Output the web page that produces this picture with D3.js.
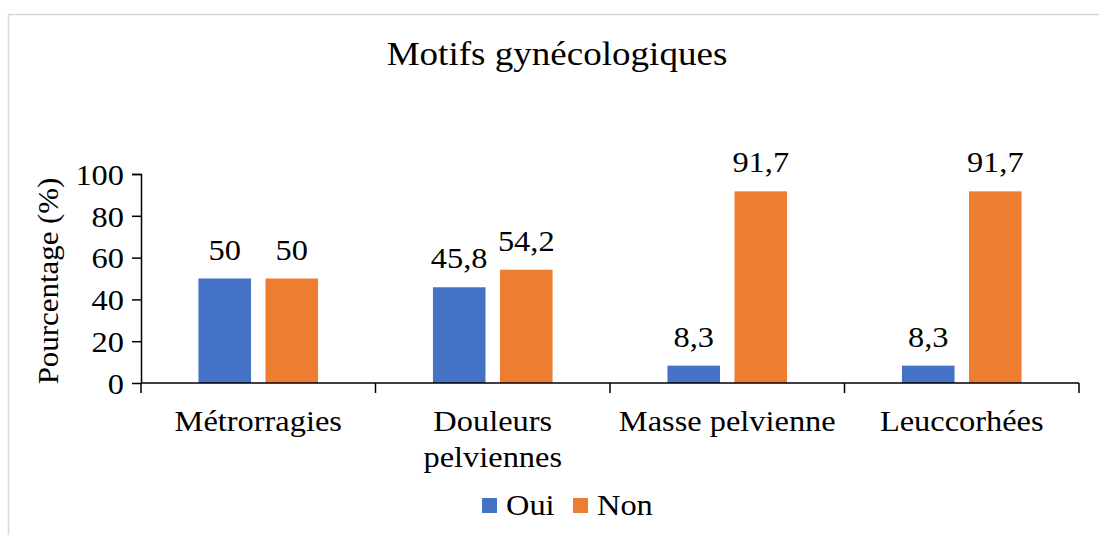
<!DOCTYPE html>
<html>
<head>
<meta charset="utf-8">
<script src="https://cdn.jsdelivr.net/npm/d3@7"></script>
<style>
  body { margin: 0; background: #fff; }
  text { font-family: "Liberation Serif", "Times New Roman", serif; fill: #000; }
</style>
</head>
<body>
<div id="chart"></div>
<script>
// data
const categories = [["Métrorragies"], ["Douleurs", "pelviennes"], ["Masse pelvienne"], ["Leuccorhées"]];
const seriesNames = ["Oui", "Non"];
const oui = [50, 45.8, 8.3, 8.3];
const non = [50, 54.2, 91.7, 91.7];
const yTicks = [0, 20, 40, 60, 80, 100];
const colors = ["#4472C4", "#ED7D31"];

const width = 1099, height = 535;
const margin = { top: 174, right: 20, bottom: 152, left: 141 };
const plotW = 1079 - margin.left;
const plotH = 383 - margin.top;
const fs = "30px";

// the original font sets a bit wider than Liberation Serif
function widen(sel, k) {
  sel.each(function () {
    const w = this.getComputedTextLength();
    d3.select(this).attr("textLength", w * k).attr("lengthAdjust", "spacingAndGlyphs");
  });
}

const svg = d3.select("#chart").append("svg")
  .attr("width", width).attr("height", height);

// chart area border (only top and left visible in the picture)
svg.append("rect")
  .attr("x", 8.5).attr("y", 14.5)
  .attr("width", 1110).attr("height", 540)
  .attr("fill", "none").attr("stroke", "#d9d9d9").attr("stroke-width", 1.5);

svg.append("text")
  .attr("x", 557).attr("y", 65)
  .attr("text-anchor", "middle")
  .style("font-size", "34px")
  .text("Motifs gynécologiques")
  .call(widen, 1.09);

const g = svg.append("g").attr("transform", `translate(${margin.left},${margin.top})`);

const x = d3.scaleBand().domain(d3.range(categories.length)).range([0, plotW]).padding(0);
const x1 = d3.scaleBand().domain(seriesNames)
  .range([x.bandwidth() * 0.245, x.bandwidth() * 0.755]).paddingInner(0.216);
const y = d3.scaleLinear().domain([0, 100]).range([plotH, 0]);

const data = categories.map((c, i) => ({ i, values: [oui[i], non[i]] }));

const groups = g.selectAll("g.grp").data(data).enter().append("g")
  .attr("transform", d => `translate(${x(d.i)},0)`);

groups.selectAll("rect").data(d => d.values.map((v, k) => ({ v, k }))).enter()
  .append("rect")
  .attr("x", d => x1(seriesNames[d.k]))
  .attr("y", d => y(d.v))
  .attr("width", x1.bandwidth())
  .attr("height", d => plotH - y(d.v))
  .attr("fill", d => colors[d.k]);

groups.selectAll("text.lbl").data(d => d.values.map((v, k) => ({ v, k }))).enter()
  .append("text")
  .attr("class", "lbl")
  .attr("x", d => x1(seriesNames[d.k]) + x1.bandwidth() / 2)
  .attr("y", d => y(d.v) - 19)
  .attr("text-anchor", "middle")
  .style("font-size", fs)
  .text(d => String(d.v).replace(".", ","))
  .call(widen, 1.08);

// y axis
const yAxis = g.append("g").call(d3.axisLeft(y).tickValues(yTicks).tickSize(9).tickPadding(8));
yAxis.select(".domain").attr("d", `M-9,0.5H0.5V${plotH}`).attr("stroke", "#000").attr("stroke-width", 1.5);
yAxis.selectAll(".tick line").attr("stroke", "#000").attr("stroke-width", 1.5);
yAxis.selectAll(".tick text").style("font-size", fs).attr("dy", "0.34em")
  .style("font-family", '"Liberation Serif", serif')
  .call(widen, 1.08);

// x axis: category boundary ticks
const xAxisG = g.append("g").attr("transform", `translate(0,${plotH})`);
xAxisG.append("line").attr("x1", 0).attr("x2", plotW).attr("y1", 0).attr("y2", 0)
  .attr("stroke", "#000").attr("stroke-width", 1.5);
xAxisG.selectAll("line.tk").data(d3.range(categories.length + 1)).enter()
  .append("line")
  .attr("x1", d => d === categories.length ? plotW : x(d))
  .attr("x2", d => d === categories.length ? plotW : x(d))
  .attr("y1", 0).attr("y2", 10)
  .attr("stroke", "#000").attr("stroke-width", 1.5);

categories.forEach((lines, i) => {
  lines.forEach((line, j) => {
    xAxisG.append("text")
      .attr("x", x(i) + x.bandwidth() / 2)
      .attr("y", 48 + j * 36)
      .attr("text-anchor", "middle")
      .style("font-size", fs)
      .text(line)
      .call(widen, 1.08);
  });
});

// y axis title
svg.append("text")
  .attr("transform", `translate(58,281) rotate(-90)`)
  .attr("text-anchor", "middle")
  .style("font-size", fs)
  .text("Pourcentage (%)")
  .call(widen, 1.03);

// legend
const legend = svg.append("g").attr("transform", "translate(482,498)");
const legX = [0, 91];
seriesNames.forEach((s, k) => {
  legend.append("rect").attr("x", legX[k]).attr("y", 0).attr("width", 15).attr("height", 15).attr("fill", colors[k]);
  legend.append("text").attr("x", legX[k] + 24).attr("y", 17).style("font-size", fs).text(s)
    .call(widen, 1.08);
});
</script>
</body>
</html>
